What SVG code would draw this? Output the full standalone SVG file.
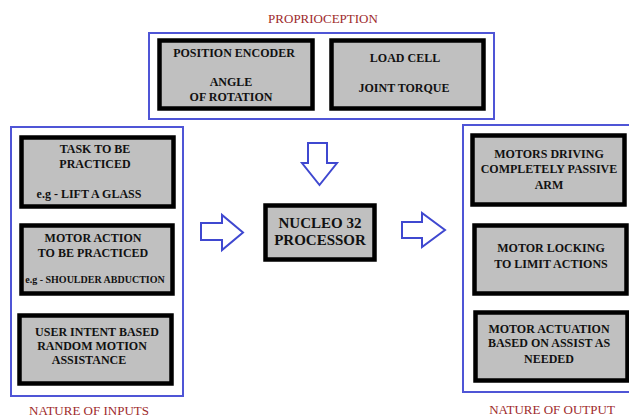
<svg xmlns="http://www.w3.org/2000/svg" width="629" height="419" viewBox="0 0 629 419">
<style>
.grp{fill:none;stroke:#4f55d6;stroke-width:2}
.box{fill:#c0c0c0;stroke:#000;stroke-width:4.5}
.t{font-weight:bold;font-size:12px;fill:#111;text-anchor:middle}
.s{font-size:10px}
.big{font-size:15px}
.lbl{font-size:13px;fill:#9e2a2b;text-anchor:middle}
.arr{fill:#fff;stroke:#3f48d0;stroke-width:2;stroke-linejoin:miter}
</style>
<rect width="629" height="419" fill="#fff"/>
<g font-family="Liberation Serif, Times New Roman, serif">
<g id="groups">
<rect class="grp" x="149" y="33" width="345" height="86"/>
<rect class="grp" x="11" y="127" width="172" height="269"/>
<rect class="grp" x="463" y="125" width="170" height="267"/>
<text class="lbl" x="323" y="23">PROPRIOCEPTION</text>
<text class="lbl" x="89" y="415">NATURE OF INPUTS</text>
<text class="lbl" x="552" y="414">NATURE OF OUTPUT</text>
</g>
<g id="position-encoder">
<rect class="box" x="159.5" y="40.5" width="153" height="68"/>
<text class="t" x="234" y="57">POSITION ENCODER</text>
<text class="t" x="231" y="86">ANGLE</text>
<text class="t" x="231" y="101">OF ROTATION</text>
</g>
<g id="load-cell">
<rect class="box" x="331.5" y="40.5" width="152" height="68"/>
<text class="t" x="405" y="62">LOAD CELL</text>
<text class="t" x="404" y="91.5">JOINT TORQUE</text>
</g>
<g id="task">
<rect class="box" x="21.5" y="137.5" width="152" height="69"/>
<text class="t" x="95" y="153">TASK TO BE</text>
<text class="t" x="95" y="168">PRACTICED</text>
<text class="t" x="89" y="198">e.g - LIFT A GLASS</text>
</g>
<g id="motor-action">
<rect class="box" x="21.5" y="225.5" width="151" height="68"/>
<text class="t" x="93" y="242">MOTOR ACTION</text>
<text class="t" x="93" y="257">TO BE PRACTICED</text>
<text class="t s" x="95" y="283">e.g - SHOULDER ABDUCTION</text>
</g>
<g id="user-intent">
<rect class="box" x="19.5" y="315.5" width="152" height="68"/>
<text class="t" x="97" y="336">USER INTENT BASED</text>
<text class="t" x="92" y="350">RANDOM MOTION</text>
<text class="t" x="89" y="364">ASSISTANCE</text>
</g>
<g id="nucleo">
<rect class="box" x="265.5" y="205.5" width="109" height="54"/>
<text class="t big" x="320" y="228">NUCLEO 32</text>
<text class="t big" x="320" y="245">PROCESSOR</text>
</g>
<g id="motors-driving">
<rect class="box" x="472.5" y="135.5" width="152" height="69"/>
<text class="t" x="549" y="158">MOTORS DRIVING</text>
<text class="t" x="549" y="173">COMPLETELY PASSIVE</text>
<text class="t" x="549" y="189">ARM</text>
</g>
<g id="motor-locking">
<rect class="box" x="474.5" y="225.5" width="152" height="68"/>
<text class="t" x="551" y="252">MOTOR LOCKING</text>
<text class="t" x="551" y="268">TO LIMIT ACTIONS</text>
</g>
<g id="motor-actuation">
<rect class="box" x="475.5" y="312.5" width="152" height="68"/>
<text class="t" x="549" y="333">MOTOR ACTUATION</text>
<text class="t" x="549" y="347">BASED ON ASSIST AS</text>
<text class="t" x="549" y="363">NEEDED</text>
</g>
</g>
<g id="connectors">
<polygon class="arr" points="308,143 327,143 327,163 337,163 319.5,185 302,163 308,163"/>
<polygon class="arr" points="201,223 222,223 222,215 243,232.5 222,250 222,240 201,240"/>
<polygon class="arr" points="402,222 422,222 422,213 445,230 422,247 422,238 402,238"/>
</g>
</svg>
